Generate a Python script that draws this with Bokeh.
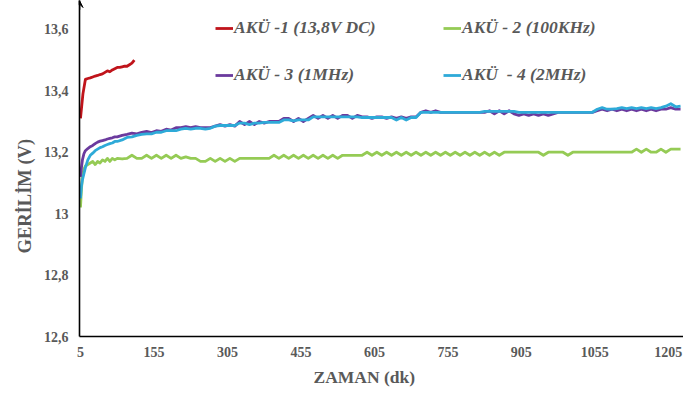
from bokeh.plotting import figure
from bokeh.models import (Range1d, FixedTicker, Legend, LegendItem, Title,
                          Arrow, VeeHead)
from bokeh.embed import file_html
from bokeh.resources import INLINE

# ---------------- data ----------------
series_names = ["AKÜ -1 (13,8V DC)", "AKÜ - 2 (100KHz)", "AKÜ - 3 (1MHz)", "AKÜ  - 4 (2MHz)"]
series_colors = ["#C0141B", "#95CB55", "#6B3A9E", "#2EAAD8"]

x_ticks = [5, 155, 305, 455, 605, 755, 905, 1055, 1205]
y_ticks = [12.6, 12.8, 13.0, 13.2, 13.4, 13.6]
y_tick_labels = ["12,6", "12,8", "13", "13,2", "13,4", "13,6"]

# AKÜ-1 (only first ~2 hours)
minutes_1 = [5, 10, 15, 20, 25, 30, 35, 40, 45, 50, 55, 60, 65, 70, 75, 80,
             85, 90, 95, 100, 105, 110, 115]
aku_1 = [13.31, 13.39, 13.437, 13.44, 13.442, 13.445, 13.448, 13.45, 13.453,
         13.455, 13.46, 13.465, 13.462, 13.468, 13.472, 13.476, 13.476, 13.478,
         13.48, 13.48, 13.485, 13.49, 13.50]

# common time axis for AKÜ-2..4
minutes = [5, 7, 9, 12, 15, 20, 25, 30, 35, 40, 45, 50, 55, 60, 65, 70, 75, 80] + \
          list(range(90, 1231, 10))

aku_2 = [13.02, 13.08, 13.12, 13.145, 13.155, 13.16, 13.165, 13.17, 13.16, 13.17,
         13.165, 13.175, 13.17, 13.18, 13.17, 13.18, 13.175, 13.18,
         13.178, 13.18, 13.19, 13.18, 13.18, 13.19, 13.18, 13.19, 13.18, 13.19,   # 90-180
         13.18, 13.19, 13.18, 13.185, 13.18, 13.18, 13.17, 13.17, 13.18, 13.17,   # 190-280
         13.18, 13.17, 13.18, 13.17, 13.18, 13.18, 13.18, 13.18, 13.18, 13.18,    # 290-380
         13.18, 13.19, 13.18, 13.19, 13.18, 13.19, 13.18, 13.19, 13.18, 13.19,    # 390-480
         13.18, 13.19, 13.18, 13.19, 13.18, 13.19, 13.19, 13.19, 13.19, 13.19,    # 490-580
         13.20, 13.19, 13.20, 13.19, 13.20, 13.19, 13.20, 13.19, 13.20, 13.19,    # 590-680
         13.20, 13.19, 13.20, 13.19, 13.20, 13.19, 13.20, 13.19, 13.20, 13.19,    # 690-780
         13.20, 13.19, 13.20, 13.19, 13.20, 13.19, 13.20, 13.19, 13.20, 13.20,    # 790-880
         13.20, 13.20, 13.20, 13.20, 13.20, 13.20, 13.19, 13.20, 13.20, 13.20,    # 890-980
         13.20, 13.19, 13.20, 13.20, 13.20, 13.20, 13.20, 13.20, 13.20, 13.20,    # 990-1080
         13.20, 13.20, 13.20, 13.20, 13.20, 13.21, 13.20, 13.21, 13.20, 13.20,    # 1090-1180
         13.21, 13.20, 13.21, 13.21, 13.21]                                       # 1190-1230

aku_3 = [13.12, 13.15, 13.175, 13.195, 13.205, 13.212, 13.218, 13.222, 13.228, 13.233,
         13.236, 13.238, 13.24, 13.243, 13.245, 13.247, 13.25, 13.25,
         13.255, 13.258, 13.262, 13.26, 13.265, 13.268, 13.264, 13.27, 13.268, 13.275,
         13.272, 13.28, 13.28, 13.283, 13.28, 13.283, 13.28, 13.28, 13.28, 13.285,
         13.29, 13.285, 13.29, 13.285, 13.30, 13.29, 13.30, 13.29, 13.30, 13.295,
         13.30, 13.30, 13.30, 13.31, 13.31, 13.30, 13.31, 13.30, 13.31, 13.32,
         13.31, 13.32, 13.31, 13.32, 13.31, 13.32, 13.32, 13.31, 13.32, 13.315,
         13.315, 13.31, 13.315, 13.315, 13.31, 13.315, 13.31, 13.315, 13.31, 13.315,
         13.315, 13.33, 13.335, 13.33, 13.335, 13.33, 13.33, 13.33, 13.33, 13.33,
         13.33, 13.33, 13.33, 13.33, 13.33, 13.335, 13.325, 13.335, 13.325, 13.335,
         13.325, 13.32, 13.325, 13.32, 13.325, 13.32, 13.325, 13.32, 13.325, 13.33,
         13.33, 13.33, 13.33, 13.33, 13.33, 13.33, 13.33, 13.335, 13.34, 13.335,
         13.34, 13.335, 13.34, 13.335, 13.34, 13.335, 13.34, 13.335, 13.34, 13.335,
         13.34, 13.34, 13.345, 13.34, 13.34]

aku_4 = [13.05, 13.09, 13.11, 13.13, 13.15, 13.175, 13.19, 13.197, 13.205, 13.21,
         13.215, 13.218, 13.222, 13.225, 13.228, 13.23, 13.235, 13.235,
         13.24, 13.248, 13.25, 13.255, 13.258, 13.26, 13.26, 13.265, 13.265, 13.27,
         13.27, 13.27, 13.275, 13.278, 13.275, 13.278, 13.278, 13.275, 13.278, 13.285,
         13.287, 13.287, 13.287, 13.287, 13.295, 13.295, 13.29, 13.295, 13.295, 13.297,
         13.297, 13.297, 13.297, 13.305, 13.305, 13.302, 13.305, 13.305, 13.305, 13.315,
         13.315, 13.315, 13.315, 13.315, 13.315, 13.315, 13.315, 13.315, 13.315, 13.313,
         13.313, 13.313, 13.313, 13.313, 13.313, 13.313, 13.305, 13.313, 13.305, 13.313,
         13.313, 13.33, 13.33, 13.33, 13.33, 13.33, 13.33, 13.33, 13.33, 13.33,
         13.33, 13.33, 13.33, 13.33, 13.333, 13.333, 13.333, 13.333, 13.333, 13.333,
         13.333, 13.33, 13.33, 13.33, 13.33, 13.33, 13.33, 13.33, 13.33, 13.33,
         13.33, 13.33, 13.33, 13.33, 13.33, 13.33, 13.33, 13.34, 13.345, 13.34,
         13.34, 13.342, 13.345, 13.342, 13.345, 13.342, 13.345, 13.342, 13.345, 13.342,
         13.345, 13.35, 13.358, 13.348, 13.35]

x_title = "ZAMAN (dk)"
y_title = "GERİLİM (V)"

# ---------------- figure ----------------
X_START, X_END = 3, 1236
Y_START, Y_END = 12.6, 13.694

p = figure(width=683, height=397, output_backend="svg", toolbar_location=None,
           x_range=Range1d(X_START, X_END), y_range=Range1d(Y_START, Y_END),
           min_border_left=79, min_border_right=0, min_border_top=0,
           min_border_bottom=61)
p.outline_line_color = None
p.grid.visible = False
p.background_fill_color = "white"
p.border_fill_color = "white"

font = "Liberation Serif"
grey = "#595959"

for ax in (p.xaxis[0], p.yaxis[0]):
    ax.axis_line_color = "black"
    ax.axis_line_width = 1.6
    ax.major_tick_line_color = None
    ax.minor_tick_line_color = None
    ax.major_tick_out = 0
    ax.major_tick_in = 0
    ax.major_label_text_font = font
    ax.major_label_text_font_style = "bold"
    ax.major_label_text_font_size = "14px"
    ax.major_label_text_color = grey

p.xaxis.ticker = FixedTicker(ticks=x_ticks)
p.yaxis.ticker = FixedTicker(ticks=y_ticks)
p.yaxis.major_label_overrides = {t: l for t, l in zip(y_ticks, y_tick_labels)}
p.xaxis.major_label_standoff = 10
p.yaxis.major_label_standoff = 11

# arrow head on top of the y axis
p.add_layout(Arrow(end=VeeHead(size=7, line_color="black", fill_color="black", line_width=1),
                   x_start=X_START, y_start=Y_END - 0.03, x_end=X_START, y_end=Y_END,
                   line_color="black", line_width=1.6))

# ---------------- series ----------------
r1 = p.line(minutes_1, aku_1, line_color=series_colors[0], line_width=2.8, line_join="round")
r2 = p.line(minutes, aku_2, line_color=series_colors[1], line_width=2.8, line_join="round")
r3 = p.line(minutes, aku_3, line_color=series_colors[2], line_width=2.8, line_join="round")
r4 = p.line(minutes, aku_4, line_color=series_colors[3], line_width=2.8, line_join="round")
renderers = [r1, r2, r3, r4]

# ---------------- legend (2 rows x 2 columns) ----------------
def make_legend(idx, loc_y):
    return Legend(items=[LegendItem(label=series_names[i], renderers=[renderers[i]]) for i in idx],
                  orientation="horizontal", location=(136, loc_y),
                  glyph_width=18, glyph_height=20, label_height=20, label_width=209,
                  label_standoff=1, spacing=0, padding=0, margin=0,
                  border_line_color=None, background_fill_alpha=0,
                  label_text_font=font, label_text_font_style="bold italic",
                  label_text_font_size="17.5px", label_text_color=grey)

p.add_layout(make_legend([0, 1], 298))
p.add_layout(make_legend([2, 3], 251))

# ---------------- axis titles ----------------
p.add_layout(Title(text=x_title, align="left", offset=234, vertical_align="top",
                   standoff=14, text_font=font, text_font_style="bold",
                   text_font_size="17.5px", text_color=grey), "below")
p.add_layout(Title(text=y_title, align="left", offset=83, vertical_align="top",
                   standoff=8, text_font=font, text_font_style="bold",
                   text_font_size="18.5px", text_color=grey), "left")

open("out.html", "w").write(file_html(p, INLINE))
